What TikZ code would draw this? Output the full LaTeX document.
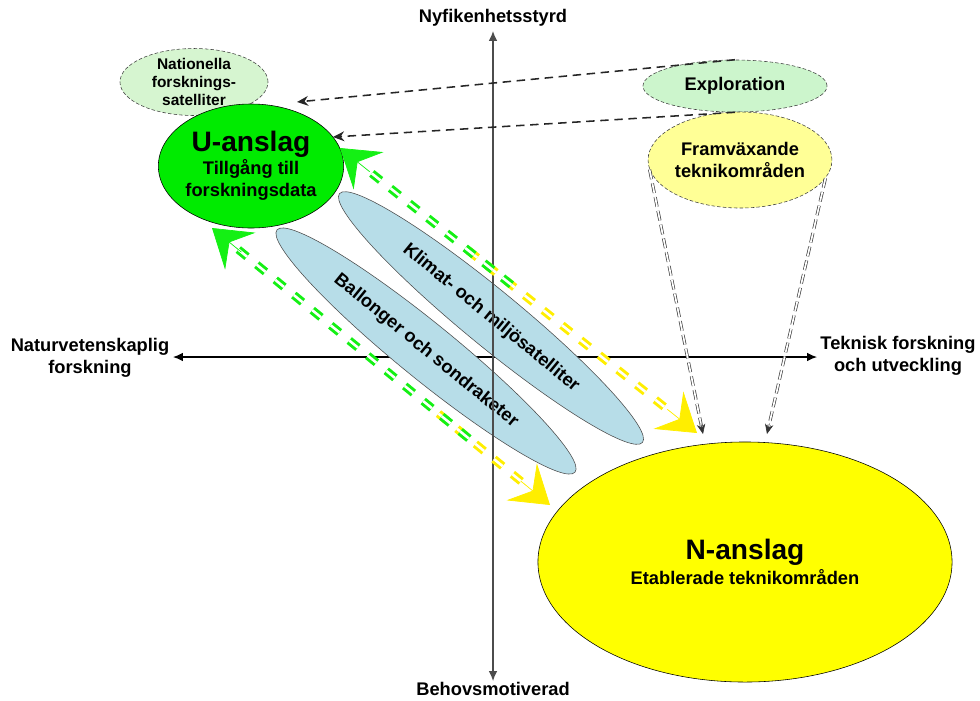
\documentclass[tikz,border=0pt]{standalone}
\usepackage{fontspec}
\setmainfont{Liberation Sans}
\usetikzlibrary{shapes.geometric,arrows.meta,calc}
\definecolor{uGreen}{RGB}{0,235,0}
\definecolor{paleGreen}{RGB}{214,245,208}
\definecolor{mintGreen}{RGB}{204,245,204}
\definecolor{paleYellow}{RGB}{255,255,150}
\definecolor{nYellow}{RGB}{255,255,0}
\definecolor{skyBlue}{RGB}{183,221,232}
\definecolor{flowGreen}{RGB}{20,240,20}
\definecolor{flowYellow}{RGB}{255,238,0}

\begin{document}
\begin{tikzpicture}[x=0.025cm,y=-0.025cm,
    every node/.style={font=\bfseries\fontsize{13}{15.5}\selectfont, align=center},
    blob/.style={ellipse, draw, inner sep=0pt},
    dotblob/.style={blob, draw=black!75, dash pattern=on 2.5pt off 1.5pt},
    rocket/.style={blob, draw=black!70, fill=skyBlue},
    axis/.style={line width=0.8pt, {Latex[length=7pt,width=6pt]}-{Latex[length=7pt,width=6pt]}},
    flow/.style={double=white, line width=2.1pt, double distance=1.8pt, dash pattern=on 8pt off 9pt},
    flowtip/.style={line width=0.5pt, -{Stealth[length=26pt,width=34pt,inset=10pt]}},
    feed/.style={draw=black!75, double=white, line width=0.5pt, double distance=1.2pt, dash pattern=on 7pt off 3pt},
    feedtip/.style={draw=black!80, line width=0.4pt, -{Stealth[length=7pt,width=6pt]}},
    hint/.style={draw=black!85, line width=1.1pt, dash pattern=on 6pt off 4pt, -{Stealth[length=8pt,width=7pt]}}]
  %%%%% START %%%%%

  \useasboundingbox (0,0) rectangle (980,700);

  % axes
  \coordinate (xl) at (173,357);
  \coordinate (xr) at (817,357);
  \coordinate (yt) at (493,31);
  \coordinate (yb) at (493,681);
  \draw[axis] (xl) -- (xr);

  \node[rocket, minimum width=9.8cm, minimum height=1.4cm, rotate=-39.4] (klimat) at (491,318) {Klimat- och miljösatelliter};
  \node[rocket, minimum width=9.6cm, minimum height=1.4cm, rotate=-39.1] (ballong) at (426,351) {Ballonger och sondraketer};

  \draw[axis, draw=black!70] (yb) -- (yt);

  \node (nyfiken) at (493,18) {Nyfikenhetsstyrd};
  \node (behov) at (493,689) {Behovsmotiverad};
  \node (naturv) at (90,358) {Naturvetenskaplig\\forskning};
  \node (teknisk) at (898,356) {Teknisk forskning\\och utveckling};

  % ellipses
  \node[dotblob, fill=paleGreen, minimum width=3.7cm, minimum height=1.6cm,
    font=\bfseries\fontsize{11}{12.8}\selectfont] (nation) at (194,82) {Nationella\\forsknings-\\satelliter};
  \node[blob, fill=uGreen, minimum width=4.3cm, minimum height=3.1cm] (uansl) at (251,166)
    {{\fontsize{20}{24}\selectfont U-anslag}\\[1pt]Tillgång till\\forskningsdata};
  \node[dotblob, fill=mintGreen, minimum width=4.6cm, minimum height=1.3cm] (expl) at (735,86) {Exploration};
  \node[dotblob, fill=paleYellow, minimum width=3.9cm, minimum height=2.4cm] (fram) at (740,160) {Framväxande\\teknikområden};
  \node[blob, fill=nYellow, minimum width=10.35cm, minimum height=6cm] (nansl) at (745,562)
    {{\fontsize{20}{24}\selectfont N-anslag}\\[2pt]Etablerade teknikområden};

  % flows between U and N
  \coordinate (ug) at (340,148);
  \coordinate (uy) at (697,433);
  \coordinate (lg) at (212,228);
  \coordinate (ly) at (550,505);
  \draw[flow, draw=flowYellow] ($(ug)!0.36!(uy)$) -- ($(uy)!0.75cm!(ug)$);
  \draw[flowtip, draw=flowYellow, fill=flowYellow] ($(uy)!0.95cm!(ug)$) -- (uy);
  \draw[flow, draw=flowGreen] ($(ug)!0.48!(uy)$) -- ($(ug)!0.75cm!(uy)$);
  \draw[flowtip, draw=flowGreen, fill=flowGreen] ($(ug)!0.95cm!(uy)$) -- (ug);
  \draw[flow, draw=flowYellow] ($(lg)!0.67!(ly)$) -- ($(ly)!0.75cm!(lg)$);
  \draw[flowtip, draw=flowYellow, fill=flowYellow] ($(ly)!0.95cm!(lg)$) -- (ly);
  \draw[flow, draw=flowGreen] ($(lg)!0.76!(ly)$) -- ($(lg)!0.75cm!(ly)$);
  \draw[flowtip, draw=flowGreen, fill=flowGreen] ($(lg)!0.95cm!(ly)$) -- (lg);

  % from framvaxande down to N
  \coordinate (nl) at (703,434);
  \coordinate (nr) at (767,434);
  \draw[feed] (fram.186) -- ($(nl)!0.2cm!(fram.186)$);
  \draw[feedtip] ($(nl)!0.27cm!(fram.186)$) -- (nl);
  \draw[feed] (fram.-12) -- ($(nr)!0.2cm!(fram.-12)$);
  \draw[feedtip] ($(nr)!0.27cm!(fram.-12)$) -- (nr);

  % from exploration
  \coordinate (natin) at (297,102);
  \coordinate (uin) at (333,137);
  \draw[hint] (expl.north) -- (natin);
  \draw[hint] (expl.south) -- (uin);

  %%%%% END %%%%%
\end{tikzpicture}
\end{document}
